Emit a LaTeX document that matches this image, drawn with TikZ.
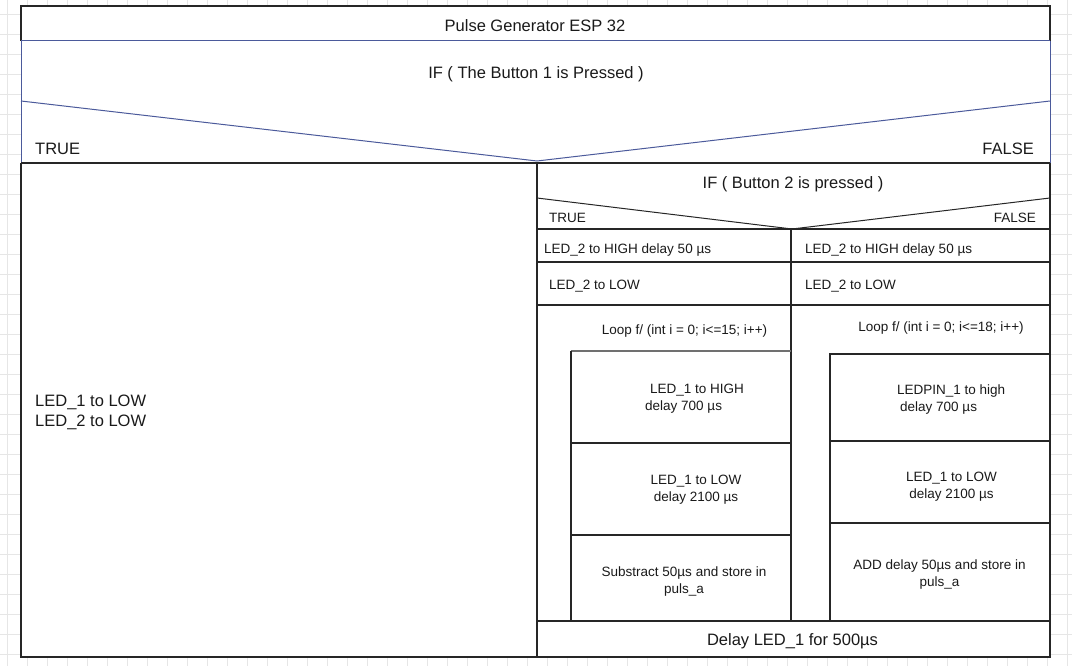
\documentclass[tikz,border=0pt]{standalone}
\usepackage{fontspec}
\setmainfont{Liberation Sans}
\definecolor{gridc}{HTML}{E6E6E6}
\definecolor{linec}{HTML}{262626}
\definecolor{bluec}{HTML}{4B5A9B}
\definecolor{bodyc}{HTML}{707070}
\definecolor{txtc}{HTML}{1A1A1A}
\begin{document}
\begin{tikzpicture}[x=1pt,y=-1pt,
  gridline/.style={draw=gridc,line width=0.9pt},
  dk/.style={draw=linec,line width=1.2pt},
  bl/.style={draw=bluec,line width=1pt},
  big/.style={inner sep=0pt,yshift=-2pt,text=txtc,font=\fontsize{16.5}{20}\selectfont},
  small/.style={inner sep=0pt,yshift=-2pt,text=txtc,font=\fontsize{13.5}{17}\selectfont}]
\useasboundingbox (0,0) rectangle (1072,666);
\fill[white] (0,0) rectangle (1072,666);
\foreach \x in {7,27,...,1067} \draw[gridline] (\x,0) -- (\x,666);
\foreach \y in {14,34,...,654} \draw[gridline] (0,\y) -- (1072,\y);
\fill[white] (21,6) rectangle (1050,657);
% outer IF
\draw[dk] (21,41) -- (21,6) -- (1050,6) -- (1050,41);
\draw[bl] (21,41) -- (1050,41);
\draw[bl] (21,41) -- (21,163);
\draw[bl] (1050,41) -- (1050,163);
\draw[bl] (21,101) -- (537,161) -- (1050,101);
\draw[dk] (21,163) -- (1050,163);
\draw[dk] (21,163) -- (21,657) -- (1050,657) -- (1050,163);
\draw[dk] (537,163) -- (537,657);
% inner IF
\draw[dk,line width=1pt] (537,198) -- (792,229) -- (1050,198);
\draw[dk,line width=2pt] (537,229) -- (1050,229);
\draw[dk] (791,229) -- (791,621);
\draw[dk] (537,262) -- (1050,262);
\draw[dk] (537,305) -- (1050,305);
% left loop body
\draw[draw=bodyc,line width=2pt] (571,351) -- (791,351);
\draw[dk] (571,351) -- (571,621);
\draw[dk] (571,443) -- (791,443);
\draw[dk] (571,535) -- (791,535);
% right loop body
\draw[dk] (830,621) -- (830,354) -- (1050,354);
\draw[dk] (830,441) -- (1050,441);
\draw[dk] (830,523) -- (1050,523);
\draw[dk,line width=1.8pt] (537,621) -- (1050,621);
% texts
\node[big] (title) at (535,24) {Pulse Generator ESP 32};
\node[big] (if1) at (536,72) {IF ( The Button 1 is Pressed )};
\node[big,anchor=west] (true1) at (35,147) {TRUE};
\node[big,anchor=east] (false1) at (1034,147) {FALSE};
\node[big,anchor=west,align=left] (left) at (35,410) {LED\_1 to LOW\\LED\_2 to LOW};
\node[big] (if2) at (793,182) {IF ( Button 2 is pressed )};
\node[small,anchor=west] (true2) at (549,216) {TRUE};
\node[small,anchor=east] (false2) at (1036,216) {FALSE};
\node[small,anchor=west] (hiA) at (544,248) {LED\_2 to HIGH delay 50 µs};
\node[small,anchor=west] (hiB) at (805,248) {LED\_2 to HIGH delay 50 µs};
\node[small,anchor=west] (loA) at (549,284) {LED\_2 to LOW};
\node[small,anchor=west] (loB) at (805,284) {LED\_2 to LOW};
\node[small] (loopA) at (684.5,329) {Loop f/ (int i = 0; i<=15; i++)};
\node[small] (loopB) at (941,326) {Loop f/ (int i = 0; i<=18; i++)};
\node[small,anchor=west,align=left] (b1) at (645,397) {\hspace*{5pt}LED\_1 to HIGH\\delay 700 µs};
\node[small,align=center] (b2) at (696,488) {LED\_1 to LOW\\delay 2100 µs};
\node[small,align=center] (b3) at (684,580) {Substract 50µs and store in\\puls\_a};
\node[small,anchor=west,align=left] (c1) at (897,397.5) {LEDPIN\_1 to high\\\hspace*{3pt}delay 700 µs};
\node[small,align=center] (c2) at (951.5,484.5) {LED\_1 to LOW\\delay 2100 µs};
\node[small,align=center] (c3) at (939.5,573) {ADD delay 50µs and store in\\puls\_a};
\node[big] (delay) at (792.5,639) {Delay LED\_1 for 500µs};
\end{tikzpicture}
\end{document}
